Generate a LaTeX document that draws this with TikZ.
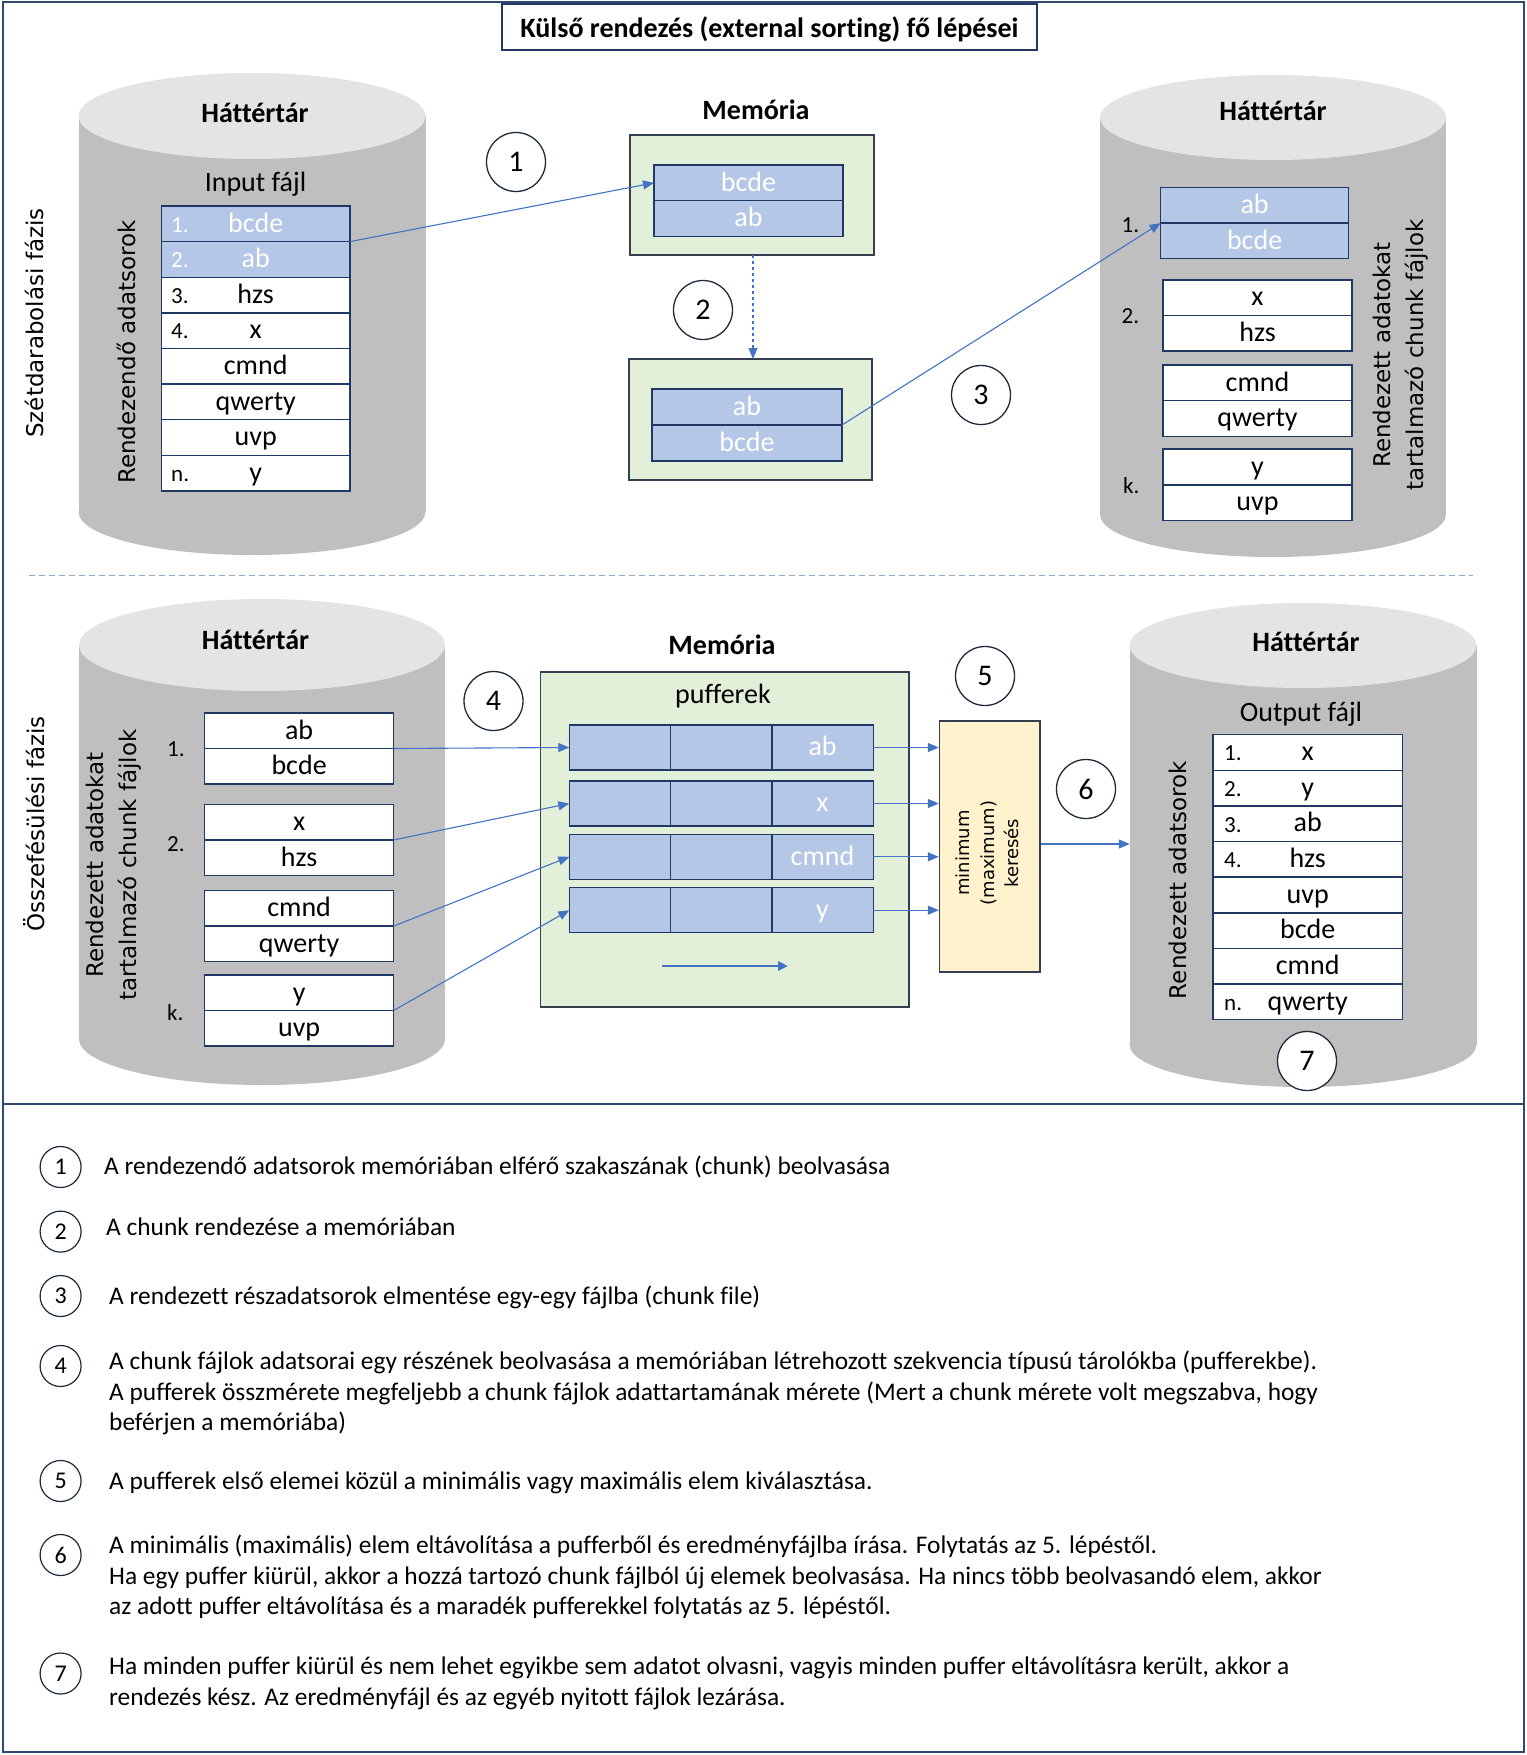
\documentclass[tikz,border=0pt]{standalone}
\usepackage{fontspec}
\setmainfont{Carlito}[Ligatures={NoCommon}]
\newfontfamily\djv{DejaVu Sans}
\usetikzlibrary{arrows.meta,calc}
\definecolor{cellblue}{HTML}{B4C7E7}
\definecolor{navy}{HTML}{1F3864}
\definecolor{memgreen}{HTML}{E2F0D9}
\definecolor{minyellow}{HTML}{FFF2CC}
\definecolor{arrowblue}{HTML}{4472C4}
\definecolor{cylbody}{HTML}{BFBFBF}
\definecolor{cyltop}{HTML}{E4E4E4}
\definecolor{framec}{HTML}{2F4A6E}
\definecolor{boxedge}{HTML}{34404F}
\definecolor{circc}{HTML}{1E2A3A}
\definecolor{sepc}{HTML}{8EA9C8}
\newcommand\fcell{\fontsize{28}{34}\selectfont}
\newcommand\fnum{\fontsize{23}{28}\selectfont}
\newcommand\frot{\djv\fontsize{23}{33}\selectfont}
\newcommand\fmin{\djv\fontsize{18}{24.5}\selectfont}
\newcommand\fleg{\fontsize{25.4}{30.5}\selectfont}
\newcommand\fcirc{\fontsize{30}{34}\selectfont}
\newcommand\flegc{\fontsize{24}{28}\selectfont}
\newcommand\drawcyl[5]{%
  \fill[cylbody] (#1,#3) ellipse [x radius=#4pt, y radius=#5pt];
  \fill[cylbody] ({#1-#4},#2) rectangle ({#1+#4},#3);
  \fill[cyltop] (#1,#2) ellipse [x radius=#4pt, y radius=#5pt];
}
\begin{document}
\begin{tikzpicture}[x=1pt,y=-1pt,
  cell/.style={rectangle, draw=navy, line width=1.4pt, fill=white, inner sep=0pt, outer sep=0pt, anchor=north west, font=\fcell, text height=19.6pt, text depth=3.1pt},
  cellb/.style={cell, fill=cellblue, text=white},
  numlbl/.style={anchor=base west, font=\fnum, inner sep=0pt},
  headtxt/.style={anchor=base, font=\fcell\bfseries, inner sep=0pt},
  ctrtxt/.style={anchor=base, font=\fcell, inner sep=0pt},
  rotlbl/.style={rotate=90, font=\frot, align=center, inner sep=0pt},
  stepcirc/.style={circle, draw=circc, line width=1.3pt, fill=white, minimum size=59pt, inner sep=0pt, font=\fcirc},
  legcirc/.style={circle, draw=circc, line width=1.2pt, fill=white, minimum size=41pt, inner sep=0pt, font=\flegc},
  legtxt/.style={anchor=base west, font=\fleg, inner sep=0pt},
  membox/.style={rectangle, draw=boxedge, line width=1.4pt, fill=memgreen, anchor=north west, inner sep=0pt, outer sep=0pt},
  flowarrow/.style={draw=arrowblue, line width=1.1pt, -{Triangle[length=11pt,width=9pt]}},
]
\useasboundingbox (0,0) rectangle (1526,1755);
\fill[white] (0,0) rectangle (1526,1755);

% frame
\draw[framec, line width=2pt] (2.5,2.5) rectangle (1523.5,1752);
\draw[framec, line width=2pt] (2.5,1104) -- (1523.5,1104);

% title
\node[draw=navy, line width=1.4pt, minimum width=535pt, minimum height=46pt, inner sep=0pt, font=\fcell\bfseries, text height=22.4pt, text depth=1.4pt] (title) at (769.5,27) {Külső rendezés (external sorting) fő lépései};

% cylinders
\drawcyl{252}{116}{512}{173.5}{43}
\drawcyl{1273}{117.5}{514.5}{173}{42.5}
\drawcyl{262}{645}{1039}{183}{46}
\drawcyl{1303}{645.5}{1044.5}{173.5}{42.5}

% separator
\draw[sepc, line width=1pt, dash pattern=on 6pt off 4pt] (29,575.5) -- (1473,575.5);

% phase labels
\node[rotlbl] (phase1) at (34,323) {Szétdarabolási fázis};
\node[rotlbl] (phase2) at (34,824) {Összefésülési fázis};

% ===== upper left: input file
\node[headtxt] (h1) at (255,123) {Háttértár};
\node[ctrtxt] (inlbl) at (255.5,192) {Input fájl};
\node[rotlbl] (inrot) at (126,352) {Rendezendő adatsorok};
\foreach \t/\s [count=\i] in {bcde/cellb,ab/cellb,hzs/cell,x/cell,cmnd/cell,qwerty/cell,uvp/cell,y/cell}{
  \node[\s, minimum width=188.6pt, minimum height=35.6pt] (in\i) at (161.4,{206+(\i-1)*35.6}) {\t};
}
\foreach \n/\i in {1./1,2./2}{\node[numlbl, text=white] at ($(in\i.west)+(9.6,8.3)$) {\n};}
\foreach \n/\i in {3./3,4./4,n./8}{\node[numlbl] at ($(in\i.west)+(9.6,8.3)$) {\n};}

% ===== upper memory
\node[headtxt] (memh1) at (756,119.6) {Memória};
\node[membox, minimum width=244pt, minimum height=120pt] (mem1) at (630,135) {};
\node[cellb, minimum width=189pt, minimum height=35.7pt] (m1a) at (654,165) {bcde};
\node[cellb, minimum width=189pt, minimum height=35.7pt] (m1b) at (654,200.7) {ab};
\node[membox, minimum width=243pt, minimum height=121pt] (mem2) at (629,359) {};
\node[cellb, minimum width=190pt, minimum height=36pt] (m2a) at (652,389) {ab};
\node[cellb, minimum width=190pt, minimum height=36pt] (m2b) at (652,425) {bcde};

% ===== upper right: chunk files
\node[headtxt] (h2) at (1273,121) {Háttértár};
\node[rotlbl] (chrot1) at (1401,355) {Rendezett adatokat\\tartalmazó chunk fájlok};
\node[cellb, minimum width=188pt, minimum height=35.6pt] (c1a) at (1160.6,187.5) {ab};
\node[cellb, minimum width=188pt, minimum height=35.6pt] (c1b) at (1160.6,223.1) {bcde};
\node[cell, minimum width=189pt, minimum height=35.4pt] (c2a) at (1163,280) {x};
\node[cell, minimum width=189pt, minimum height=35.4pt] (c2b) at (1163,315.4) {hzs};
\node[cell, minimum width=189pt, minimum height=35.7pt] (c3a) at (1163,365) {cmnd};
\node[cell, minimum width=189pt, minimum height=35.7pt] (c3b) at (1163,400.7) {qwerty};
\node[cell, minimum width=189pt, minimum height=35.8pt] (c4a) at (1163,449) {y};
\node[cell, minimum width=189pt, minimum height=35.8pt] (c4b) at (1163,484.8) {uvp};
\node[numlbl] at (1121.5,232) {1.};
\node[numlbl] at (1121.5,323) {2.};
\node[numlbl] at (1123,493) {k.};

% ===== lower left: chunk files
\node[headtxt] (h3) at (255.5,649) {Háttértár};
\node[rotlbl] (chrot2) at (114,865) {Rendezett adatokat\\tartalmazó chunk fájlok};
\foreach \ta/\tb/\y/\k in {ab/bcde/713/1, x/hzs/804.5/2, cmnd/qwerty/890.6/3, y/uvp/975/4}{
  \node[cell, minimum width=189pt, minimum height=35.5pt] (d\k a) at (204.6,\y) {\ta};
  \node[cell, minimum width=189pt, minimum height=35.5pt] (d\k b) at (204.6,{\y+35.5}) {\tb};
}
\node[numlbl] at (167,756) {1.};
\node[numlbl] at (167,851) {2.};
\node[numlbl] at (167,1020) {k.};

% ===== lower memory (buffers)
\node[headtxt] (memh2) at (722,654.7) {Memória};
\node[membox, minimum width=368.5pt, minimum height=335pt] (mem3) at (540.5,672) {};
\node[ctrtxt] (puf) at (723,703.3) {pufferek};
\foreach \y/\t [count=\r] in {725/ab, 781/x, 834.3/cmnd, 887.7/y}{
  \node[cellb, minimum width=101.3pt, minimum height=45pt] (b\r1) at (569.3,\y) {};
  \node[cellb, minimum width=101.3pt, minimum height=45pt] (b\r2) at (670.6,\y) {};
  \node[cellb, minimum width=101.3pt, minimum height=45pt] (b\r3) at (771.9,\y) {\t};
}
\coordinate (dirA) at (662,966);
\coordinate (dirB) at (788,966);
\draw[draw=arrowblue, line width=2.6pt, -{Triangle[length=10pt,width=9pt]}] (dirA) -- (dirB);

% min box
\node[rectangle, draw=boxedge, line width=1.4pt, fill=minyellow, minimum width=100.5pt, minimum height=251pt, inner sep=0pt] (minbox) at (989.75,846.5) {};
\node[rotate=90, font=\fmin, align=center, inner sep=0pt] (mintxt) at (987.5,853) {minimum\\(maximum)\\keresés};

% ===== lower right: output
\node[headtxt] (h4) at (1306,651) {Háttértár};
\node[ctrtxt] (outlbl) at (1301,721) {Output fájl};
\node[rotlbl] (outrot) at (1177.7,880) {Rendezett adatsorok};
\foreach \t [count=\i] in {x,y,ab,hzs,uvp,bcde,cmnd,qwerty}{
  \node[cell, minimum width=189.4pt, minimum height=35.64pt] (o\i) at (1213,{734.6+(\i-1)*35.64}) {\t};
}
\foreach \n/\i in {1./1,2./2,3./3,4./4,n./8}{\node[numlbl] at ($(o\i.west)+(11,8.3)$) {\n};}
\coordinate (outin) at (1129.8,844);

% ===== connectors
\draw[flowarrow] (in2.north east) -- (m1a.west);
\draw[flowarrow, dashed] (753,255) coordinate (dA) -- (753,359) coordinate (dB);
\draw[flowarrow] (m2b.north east) -- (c1b.north west);
\draw[flowarrow] (d1b.north east) -- (b11.west);
\draw[flowarrow] (d2b.north east) -- (b21.west);
\draw[flowarrow] (d3b.north east) -- (b31.west);
\draw[flowarrow] (d4b.north east) -- (b41.west);
\foreach \r in {1,2,3,4}{\draw[flowarrow] (b\r3.east) -- (minbox.west |- b\r3.east);}
\draw[flowarrow] (minbox.east |- outin) -- (outin);

% step circles
\node[stepcirc] (s1) at (516,162) {1};
\node[stepcirc] (s2) at (703,310) {2};
\node[stepcirc] (s3) at (981,395) {3};
\node[stepcirc] (s4) at (493.5,701) {4};
\node[stepcirc] (s5) at (985,676) {5};
\node[stepcirc] (s6) at (1086,789) {6};
\node[stepcirc] (s7) at (1307,1061) {7};

% ===== legend
\node[legcirc] (l1) at (60.6,1167) {1};
\node[legcirc] (l2) at (60.6,1231.6) {2};
\node[legcirc] (l3) at (60.6,1296) {3};
\node[legcirc] (l4) at (60.6,1366) {4};
\node[legcirc] (l5) at (60.6,1481) {5};
\node[legcirc] (l6) at (60.6,1555) {6};
\node[legcirc] (l7) at (60.6,1673.5) {7};

\node[legtxt] (t1) at (104,1174.5) {A rendezendő adatsorok memóriában elférő szakaszának (chunk) beolvasása};
\node[legtxt] (t2) at (106,1235.7) {A chunk rendezése a memóriában};
\node[legtxt] (t3) at (109,1304.7) {A rendezett részadatsorok elmentése egy-egy fájlba (chunk file)};
\node[legtxt] (t4a) at (109,1369.4) {A chunk fájlok adatsorai egy részének beolvasása a memóriában létrehozott szekvencia típusú tárolókba (pufferekbe).};
\node[legtxt] (t4b) at (109,1400) {A pufferek összmérete megfeljebb a chunk fájlok adattartamának mérete (Mert a chunk mérete volt megszabva, hogy};
\node[legtxt] (t4c) at (109,1430) {beférjen a memóriába)};
\node[legtxt] (t5) at (109,1489.3) {A pufferek első elemei közül a minimális vagy maximális elem kiválasztása.};
\node[legtxt] (t6a) at (109,1553) {A minimális (maximális) elem eltávolítása a pufferből és eredményfájlba írása. Folytatás az 5. lépéstől.};
\node[legtxt] (t6b) at (109,1584.5) {Ha egy puffer kiürül, akkor a hozzá tartozó chunk fájlból új elemek beolvasása. Ha nincs több beolvasandó elem, akkor};
\node[legtxt] (t6c) at (109,1614.6) {az adott puffer eltávolítása és a maradék pufferekkel folytatás az 5. lépéstől.};
\node[legtxt] (t7a) at (109,1674) {Ha minden puffer kiürül és nem lehet egyikbe sem adatot olvasni, vagyis minden puffer eltávolításra került, akkor a};
\node[legtxt] (t7b) at (109,1705) {rendezés kész. Az eredményfájl és az egyéb nyitott fájlok lezárása.};
\end{tikzpicture}
\end{document}
